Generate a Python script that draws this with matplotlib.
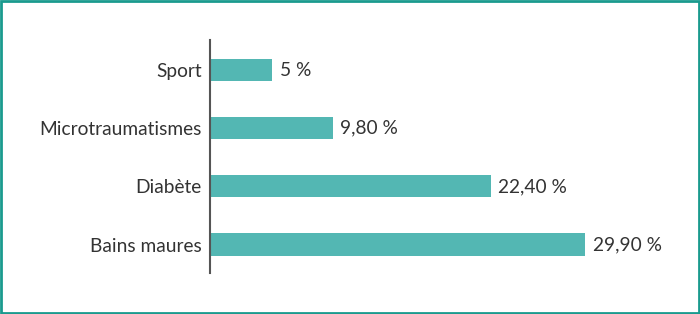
import matplotlib.pyplot as plt
from matplotlib.patches import Rectangle

# Data (bottom to top)
categories = ['Bains maures', 'Diabète', 'Microtraumatismes', 'Sport']
values = [29.90, 22.40, 9.80, 5.0]
labels = ['29,90 %', '22,40 %', '9,80 %', '5 %']

bar_color = '#53b7b3'
text_color = '#333333'

plt.rcParams['font.family'] = ['Lato', 'DejaVu Sans']

fig = plt.figure(figsize=(7, 3.14), dpi=100)
ax = fig.add_axes([0.2993, 0.1306, 0.6864, 0.742])

positions = list(range(len(categories)))
ax.barh(positions, values, height=0.38, color=bar_color)

for pos, val, lab in zip(positions, values, labels):
    ax.text(val + 0.6, pos, lab, va='center', ha='left', fontsize=13.8, color=text_color)

ax.set_yticks(positions)
ax.set_yticklabels(categories, fontsize=13.8, color=text_color)
ax.tick_params(axis='y', length=0, pad=5.5)
ax.set_xticks([])
ax.set_xlim(0, 38.26)
ax.set_ylim(-0.49, 3.52)

for side in ['top', 'right', 'bottom']:
    ax.spines[side].set_visible(False)
ax.spines['left'].set_color('#555555')
ax.spines['left'].set_linewidth(1.5)

# teal frame around the figure
fig.patches.append(Rectangle((0.0015, 0.003), 0.997, 0.994, transform=fig.transFigure,
                             fill=False, edgecolor='#1a9a8e', linewidth=2))

plt.savefig('out.png', dpi=100)
plt.close()
